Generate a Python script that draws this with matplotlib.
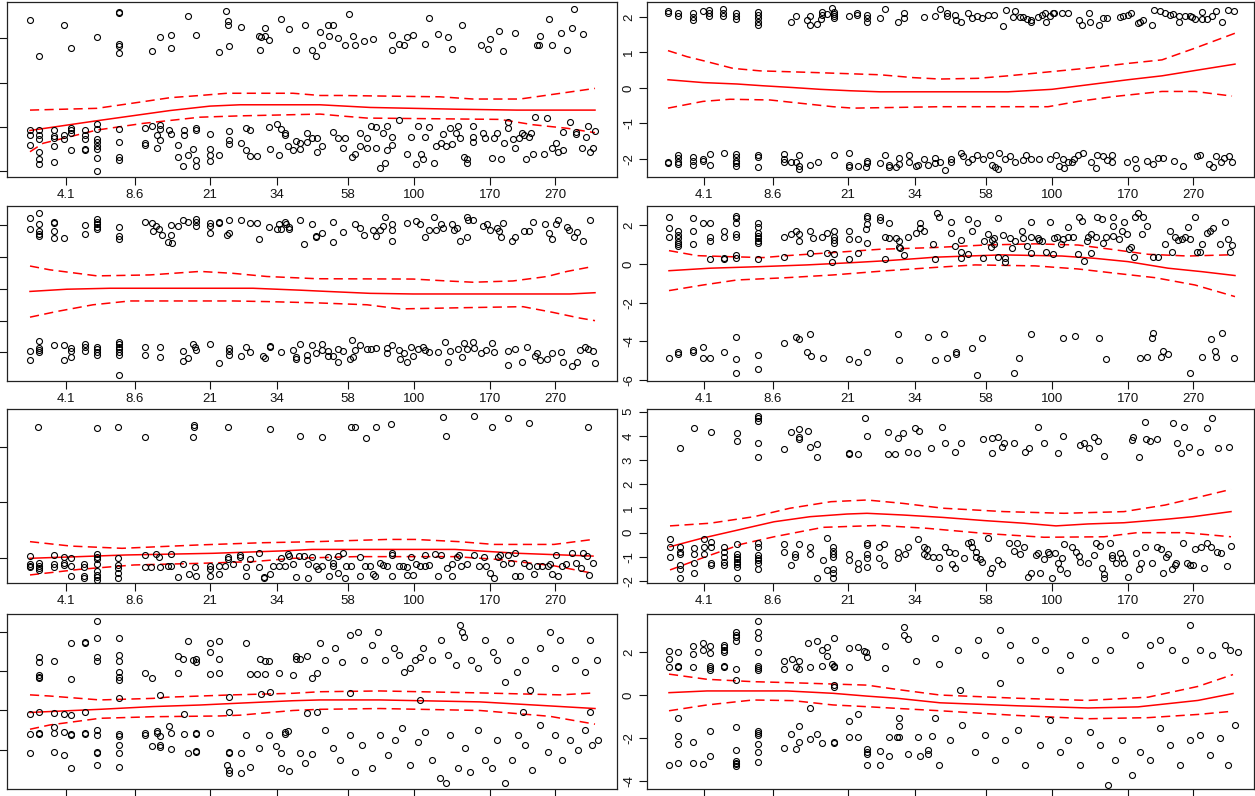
import matplotlib.pyplot as plt

plt.rcParams['font.family'] = ['Liberation Sans', 'DejaVu Sans']

# x axis: positions of the observations (rank scale), labels are quantiles
xtick_pos = [36, 105, 180, 247, 318, 384, 460, 525]
xtick_lab = ['4.1', '8.6', '21', '34', '58', '100', '170', '270']

# ---------------- panel 1 (row 1, left)
p1_pts = [
    (0, 2.42), (9, 1.61), (34, 2.30), (41, 1.79), (67, 2.02), (89, 2.60), (89, 2.58), (89, 1.87), (89, 1.83),
    (89, 1.66), (122, 1.72), (130, 2.02), (141, 2.08), (141, 1.79), (158, 2.51), (166, 2.08), (189, 1.69),
    (196, 2.62), (198, 2.38), (198, 2.30), (199, 1.82), (211, 2.26), (229, 2.05), (230, 1.74), (231, 2.04),
    (235, 2.23), (235, 2.05), (239, 1.96), (251, 2.44), (259, 2.20), (266, 1.74), (275, 2.30), (282, 1.74),
    (286, 1.61), (290, 2.15), (292, 1.85), (298, 2.30), (303, 2.30), (299, 2.05), (308, 2.00), (315, 1.85),
    (319, 2.54), (323, 2.05), (325, 1.85), (334, 1.93), (343, 1.98), (362, 2.08), (362, 1.74), (369, 1.87),
    (374, 1.85), (377, 2.02), (383, 2.08), (395, 1.87), (399, 2.47), (408, 2.10), (418, 2.02), (422, 1.76),
    (432, 2.30), (451, 1.85), (458, 1.76), (460, 1.98), (469, 2.17), (473, 1.72), (485, 2.13), (507, 1.85),
    (509, 1.85), (510, 2.05), (519, 2.44), (522, 1.85), (531, 2.13), (537, 1.74), (542, 2.23), (544, 2.66),
    (553, 2.10),
    (0, -0.07), (0, -0.18), (0, -0.41), (9, -0.07), (9, -0.18), (9, -0.28), (9, -0.56), (9, -0.73), (9, -0.84),
    (24, -0.07), (24, -0.20), (24, -0.26), (24, -0.43), (24, -0.79), (34, -0.18), (34, -0.28), (41, -0.03),
    (41, -0.08), (41, -0.13), (41, -0.53), (55, -0.07), (55, -0.18), (55, -0.28), (55, -0.50), (55, -0.53),
    (67, 0.06), (67, -0.05), (67, -0.28), (67, -0.35), (67, -0.42), (67, -0.50), (67, -0.71), (67, -0.99),
    (89, -0.05), (89, -0.33), (89, -0.67), (89, -0.74), (115, -0.03), (115, -0.37), (115, -0.40), (122, 0.02),
    (127, -0.18), (127, -0.48), (130, 0.05), (130, -0.05), (130, -0.29), (139, -0.07), (141, -0.17),
    (148, -0.41), (148, -0.67), (153, -0.88), (154, -0.07), (154, -0.18), (158, -0.63), (163, -0.50),
    (166, -0.02), (166, -0.07), (166, -0.74), (166, -0.88), (180, -0.17), (180, -0.50), (180, -0.63),
    (180, -0.76), (189, -0.63), (199, -0.09), (199, -0.29), (199, -0.38), (211, -0.37), (216, -0.53),
    (216, -0.02), (220, -0.65), (220, -0.07), (227, -0.65), (239, -0.01), (240, -0.50), (247, 0.07),
    (249, -0.63), (251, -0.05), (255, -0.14), (255, -0.18), (258, -0.44), (263, -0.52), (266, -0.31),
    (270, -0.37), (270, -0.50), (277, -0.14), (277, -0.33), (282, -0.24), (287, -0.56), (287, -0.24),
    (292, -0.44), (303, -0.11), (308, -0.26), (313, -0.47), (315, -0.26), (322, -0.67), (325, -0.61),
    (330, -0.14), (330, -0.44), (337, -0.24), (337, -0.47), (341, 0.02), (346, -0.01), (346, -0.47),
    (350, -0.93), (353, -0.14), (355, -0.81), (357, 0.02), (357, -0.52), (362, -0.23), (362, -0.41),
    (369, 0.16), (377, -0.61), (381, -0.22), (386, -0.84), (388, 0.01), (391, -0.61), (393, -0.73),
    (395, -0.23), (399, -0.01), (404, -0.81), (406, -0.43), (411, -0.37), (413, -0.17), (416, -0.43),
    (420, -0.02), (422, -0.39), (426, -0.13), (428, 0.01), (430, -0.26), (434, -0.67), (437, -0.73),
    (437, -0.81), (443, 0.01), (443, -0.22), (443, -0.35), (453, -0.14), (455, -0.24), (462, -0.71),
    (464, -0.24), (467, -0.14), (471, -0.73), (474, -0.37), (478, 0.12), (478, -0.03), (483, -0.28),
    (485, -0.48), (489, -0.24), (492, -0.13), (494, -0.18), (496, -0.73), (499, -0.22), (501, -0.14),
    (503, -0.61), (505, 0.22), (514, -0.61), (517, 0.20), (522, -0.47), (526, -0.37), (528, -0.56),
    (533, -0.11), (533, -0.53), (540, 0.12), (546, -0.11), (546, -0.16), (552, -0.47), (556, -0.22),
    (558, 0.01), (560, -0.56), (563, -0.47), (565, -0.09),
]
p1_fit = [(0, -0.08), (67, 0.14), (140, 0.37), (180, 0.47), (210, 0.50), (290, 0.50), (340, 0.44),
          (383, 0.42), (427, 0.40), (487, 0.38), (565, 0.38)]
p1_up = [(0, 0.38), (67, 0.42), (113, 0.57), (140, 0.66), (170, 0.71), (197, 0.76), (263, 0.76), (290, 0.71),
         (310, 0.71), (410, 0.68), (443, 0.63), (490, 0.63), (537, 0.78), (565, 0.87)]
p1_lo = [(0, -0.56), (13, -0.37), (67, -0.07), (113, 0.08), (170, 0.22), (210, 0.25), (290, 0.29),
         (310, 0.25), (337, 0.20), (470, 0.17), (503, 0.05), (537, -0.03), (565, -0.13)]

# ---------------- panel 2 (row 1, right)
p2_pts = [
    (0, 2.17), (0, 2.12), (10, 2.12), (10, 2.03), (25, 2.10), (25, 2.01), (25, 1.92), (35, 2.17), (41, 2.20),
    (41, 2.10), (41, 2.03), (55, 2.22), (55, 2.12), (55, 2.03), (68, 2.12), (68, 2.03), (68, 1.93), (90, 2.15),
    (90, 2.06), (90, 1.96), (90, 1.87), (90, 1.77), (123, 1.87), (128, 2.03), (139, 1.90), (142, 2.03),
    (142, 1.77), (149, 1.80), (153, 1.94), (154, 2.15), (154, 2.06), (159, 2.08), (164, 2.24), (166, 2.15),
    (166, 2.08), (166, 2.03), (166, 1.96), (181, 2.03), (189, 2.10), (189, 2.06), (199, 2.06), (199, 1.96),
    (199, 1.87), (212, 1.96), (217, 2.22), (230, 1.87), (236, 2.12), (236, 1.96), (256, 2.01), (267, 2.03),
    (272, 2.22), (279, 2.12), (279, 2.03), (287, 2.06), (288, 1.90), (293, 1.87), (300, 2.12), (304, 1.96),
    (309, 2.03), (314, 1.96), (320, 2.06), (326, 2.06), (335, 1.75), (338, 2.20), (345, 2.01), (347, 2.17),
    (352, 2.01), (355, 2.01), (359, 1.93), (363, 1.92), (363, 1.87), (370, 2.01), (374, 2.06), (377, 2.12),
    (378, 1.87), (382, 2.03), (385, 2.12), (386, 2.12), (394, 2.10), (400, 2.12), (411, 1.92), (414, 1.77),
    (421, 2.12), (422, 1.87), (431, 1.77), (435, 1.96), (439, 1.96), (452, 2.01), (455, 2.03), (460, 2.06),
    (463, 2.12), (470, 1.84), (472, 1.87), (475, 1.92), (484, 1.77), (486, 2.20), (492, 2.18), (497, 2.12),
    (502, 2.06), (505, 2.08), (511, 2.03), (511, 1.87), (517, 2.03), (522, 2.03), (524, 1.99), (527, 1.93),
    (534, 2.15), (534, 1.93), (539, 1.93), (544, 2.03), (548, 2.18), (554, 1.87), (560, 2.20), (566, 2.18),
    (0, -2.08), (0, -2.12), (10, -1.89), (10, -1.98), (10, -2.08), (10, -2.14), (25, -1.95), (25, -2.06),
    (25, -2.17), (35, -2.01), (35, -2.05), (42, -1.87), (42, -2.17), (56, -1.82), (68, -1.86), (68, -1.95),
    (68, -2.05), (68, -2.12), (68, -2.19), (90, -1.89), (90, -1.95), (90, -2.23), (116, -1.86), (116, -2.01),
    (116, -2.10), (123, -2.10), (128, -2.08), (131, -1.89), (131, -2.19), (131, -2.29), (142, -2.17),
    (150, -2.10), (166, -1.89), (181, -1.82), (181, -2.17), (181, -2.22), (190, -2.20), (198, -2.22),
    (199, -2.05), (199, -2.12), (212, -2.12), (217, -1.89), (221, -2.17), (221, -2.23), (228, -2.22),
    (231, -2.14), (231, -1.98), (241, -1.89), (241, -2.10), (248, -2.20), (250, -2.17), (256, -2.01),
    (260, -2.17), (267, -1.98), (267, -2.12), (272, -2.10), (277, -2.31), (283, -2.01), (283, -2.10),
    (293, -1.82), (295, -1.93), (300, -2.08), (304, -2.01), (309, -1.89), (315, -2.01), (322, -1.89),
    (324, -2.17), (327, -2.22), (330, -2.29), (331, -1.84), (337, -2.01), (342, -1.92), (347, -2.10),
    (355, -2.03), (358, -1.89), (363, -2.01), (371, -2.01), (382, -2.01), (388, -1.89), (391, -2.20),
    (395, -2.01), (396, -2.26), (400, -2.10), (404, -2.10), (406, -2.01), (410, -1.89), (415, -1.82),
    (423, -2.10), (428, -2.26), (429, -1.89), (435, -1.93), (439, -2.03), (444, -1.89), (444, -2.10),
    (459, -2.10), (467, -2.01), (468, -2.26), (479, -2.05), (485, -2.14), (490, -1.98), (495, -1.98),
    (506, -2.05), (515, -2.20), (529, -1.92), (532, -1.89), (541, -2.14), (545, -2.22), (548, -1.93),
    (553, -2.08), (556, -1.98), (561, -1.92), (564, -2.08),
]
p2_fit = [(0, 0.23), (35, 0.15), (69, 0.11), (95, 0.06), (125, 0.01), (152, -0.04), (182, -0.08),
          (212, -0.11), (340, -0.11), (384, -0.04), (460, 0.23), (494, 0.34), (527, 0.49), (567, 0.67)]
p2_up = [(0, 1.05), (19, 0.88), (39, 0.74), (65, 0.55), (92, 0.48), (139, 0.44), (212, 0.37), (245, 0.29),
         (272, 0.25), (310, 0.27), (340, 0.34), (384, 0.46), (417, 0.55), (460, 0.69), (494, 0.79),
         (527, 1.12), (567, 1.54)]
p2_lo = [(0, -0.57), (35, -0.38), (62, -0.32), (102, -0.34), (125, -0.41), (165, -0.53), (185, -0.57),
         (272, -0.53), (380, -0.53), (410, -0.38), (447, -0.24), (494, -0.10), (527, -0.10), (564, -0.23)]

# ---------------- panel 3 (row 2, left)
p3_pts = [
    (0, 2.23), (0, 1.88), (9, 2.40), (9, 2.04), (9, 1.81), (9, 1.72), (9, 1.67), (24, 2.12), (24, 2.07),
    (24, 1.81), (24, 1.60), (34, 1.60), (55, 2.02), (55, 1.72), (67, 2.19), (67, 2.12), (67, 2.05), (67, 1.96),
    (67, 1.88), (89, 1.96), (89, 1.65), (89, 1.56), (115, 2.10), (122, 2.07), (126, 1.98), (123, 1.81),
    (129, 1.88), (132, 1.70), (138, 1.49), (142, 1.44), (141, 2.02), (141, 1.70), (148, 1.98), (153, 2.17),
    (158, 2.10), (166, 2.19), (166, 2.12), (166, 1.98), (180, 2.07), (180, 1.98), (180, 1.75), (189, 2.12),
    (189, 2.07), (199, 2.17), (199, 1.75), (197, 1.70), (211, 2.17), (220, 2.07), (227, 2.07), (229, 1.56),
    (239, 1.96), (247, 1.88), (249, 2.05), (251, 1.88), (255, 2.12), (256, 2.05), (259, 1.96), (259, 1.88),
    (270, 2.17), (274, 1.42), (282, 2.04), (286, 1.67), (286, 1.62), (292, 1.75), (303, 2.10), (303, 1.49),
    (313, 1.78), (325, 2.04), (330, 1.93), (334, 1.70), (343, 1.86), (346, 1.67), (350, 1.86), (353, 1.99),
    (355, 2.25), (362, 2.04), (362, 1.86), (362, 1.52), (377, 2.07), (386, 2.14), (390, 2.04), (395, 1.63),
    (399, 1.86), (404, 2.25), (406, 1.86), (411, 2.04), (413, 1.91), (422, 2.04), (424, 1.86), (427, 1.91),
    (430, 1.52), (437, 2.25), (437, 1.63), (438, 2.17), (443, 2.17), (453, 1.99), (457, 2.04), (460, 1.86),
    (467, 1.91), (469, 1.81), (471, 1.63), (473, 2.07), (482, 1.52), (485, 1.63), (494, 1.81), (499, 1.83),
    (503, 2.10), (515, 2.04), (519, 1.75), (522, 1.57), (526, 2.04), (528, 2.17), (537, 1.94), (539, 1.86),
    (547, 1.78), (544, 1.63), (553, 1.52), (560, 2.17),
    (0, -1.95), (0, -2.24), (9, -1.63), (9, -1.87), (9, -1.92), (9, -1.99), (24, -1.76), (34, -1.76),
    (34, -2.24), (41, -1.87), (41, -1.97), (41, -2.15), (55, -1.73), (55, -1.84), (55, -1.94), (67, -1.82),
    (67, -1.90), (67, -1.99), (67, -2.08), (89, -1.66), (89, -1.73), (89, -1.82), (89, -1.90), (89, -1.99),
    (89, -2.08), (89, -2.71), (115, -1.84), (115, -2.08), (130, -1.84), (130, -2.15), (153, -1.95),
    (153, -2.26), (158, -2.18), (163, -1.73), (165, -1.82), (166, -1.92), (180, -1.73), (189, -2.32),
    (199, -1.87), (199, -1.97), (199, -2.08), (211, -2.10), (216, -1.84), (220, -1.99), (233, -2.10),
    (235, -2.18), (240, -1.82), (240, -1.80), (251, -1.99), (263, -1.92), (266, -2.13), (266, -2.21),
    (270, -1.73), (277, -2.08), (277, -2.24), (282, -1.76), (286, -2.03), (292, -1.74), (292, -1.92),
    (298, -1.97), (298, -2.11), (303, -2.11), (308, -1.89), (308, -2.29), (313, -1.97), (320, -2.22),
    (322, -1.61), (323, -2.13), (325, -1.92), (330, -1.78), (337, -1.89), (341, -1.89), (346, -1.85),
    (357, -1.85), (357, -2.03), (362, -1.78), (369, -1.92), (370, -2.22), (374, -2.03), (377, -2.29),
    (381, -1.82), (383, -2.11), (388, -1.89), (393, -1.82), (395, -1.92), (399, -1.99), (408, -1.99),
    (415, -1.66), (418, -2.29), (420, -1.95), (428, -1.89), (432, -2.13), (434, -1.71), (437, -1.89),
    (443, -1.66), (444, -1.87), (451, -2.03), (456, -1.92), (462, -1.71), (464, -1.99), (478, -2.39),
    (478, -1.97), (485, -1.89), (492, -2.29), (497, -1.82), (505, -2.10), (507, -2.03), (510, -2.24),
    (517, -2.22), (522, -2.03), (531, -1.99), (533, -2.29), (542, -2.43), (547, -2.29), (550, -1.92),
    (555, -1.82), (558, -1.89), (563, -1.95), (565, -2.32),
]
p3_fit = [(0, -0.08), (37, -0.01), (80, 0.02), (223, 0.02), (270, -0.04), (297, -0.08), (340, -0.14),
          (383, -0.16), (540, -0.16), (565, -0.12)]
p3_up = [(0, 0.72), (20, 0.60), (67, 0.41), (120, 0.44), (170, 0.55), (203, 0.49), (237, 0.39), (287, 0.32),
         (383, 0.31), (417, 0.25), (443, 0.21), (483, 0.25), (517, 0.39), (537, 0.55), (562, 0.70)]
p3_lo = [(0, -0.89), (27, -0.71), (63, -0.50), (100, -0.38), (203, -0.38), (237, -0.40), (287, -0.44),
         (337, -0.50), (370, -0.63), (437, -0.59), (493, -0.56), (523, -0.74), (550, -0.92), (565, -1.00)]

# ---------------- panel 4 (row 2, right)
p4_pts = [
    (1, 2.45), (1, 1.88), (1, 1.38), (10, 1.68), (10, 1.50), (10, 1.33), (10, 1.16), (10, 1.04), (10, 0.93),
    (25, 2.40), (25, 1.68), (25, 1.04), (35, 2.11), (42, 2.11), (42, 1.38), (42, 1.21), (42, 0.26), (56, 1.68),
    (56, 1.38), (56, 0.33), (56, 0.26), (68, 2.49), (68, 2.37), (68, 2.11), (68, 1.54), (68, 1.38), (68, 0.47),
    (68, 0.29), (90, 2.14), (90, 1.90), (90, 1.59), (90, 1.45), (90, 1.33), (90, 1.21), (90, 1.07), (90, 0.26),
    (116, 1.38), (116, 0.38), (123, 1.55), (128, 1.68), (131, 1.54), (131, 1.21), (142, 1.68), (142, 0.59),
    (145, 1.33), (154, 1.38), (159, 1.59), (159, 0.59), (164, 0.12), (166, 1.68), (166, 1.42), (166, 1.24),
    (166, 1.07), (166, 0.52), (181, 1.68), (181, 1.28), (181, 0.26), (190, 1.28), (190, 0.59), (198, 1.80),
    (199, 2.06), (199, 2.37), (199, 2.49), (199, 1.07), (212, 2.45), (212, 2.28), (217, 0.26), (221, 2.11),
    (217, 1.38), (221, 1.33), (228, 1.33), (231, 1.21), (231, 0.90), (232, 0.81), (236, 0.47), (240, 1.38),
    (248, 1.62), (252, 2.11), (252, 1.85), (256, 1.68), (265, 1.04), (267, 0.26), (269, 2.63), (271, 2.45),
    (283, 2.16), (283, 1.59), (287, 0.95), (293, 1.24), (293, 0.60), (293, 0.33), (300, 2.33), (300, 0.50),
    (304, 1.68), (309, 2.11), (315, 0.29), (316, 1.21), (320, 1.55), (323, 0.90), (324, 1.24), (326, 1.33),
    (326, 1.02), (330, 2.40), (330, 0.35), (335, 1.50), (337, 0.29), (337, 0.12), (342, 1.36), (344, 0.81),
    (347, 1.21), (354, 1.71), (355, 1.33), (359, 0.95), (363, 2.16), (363, 1.38), (363, 0.55), (370, 1.33),
    (371, 1.24), (374, 1.21), (378, 0.64), (382, 2.16), (385, 0.50), (386, 1.33), (389, 1.38), (393, 1.02),
    (395, 1.28), (400, 1.90), (400, 1.38), (405, 1.38), (410, 0.50), (411, 2.45), (414, 2.23), (416, 0.16),
    (419, 1.21), (420, 1.42), (423, 1.55), (423, 0.55), (428, 1.42), (429, 2.45), (434, 2.33), (435, 1.11),
    (438, 1.38), (445, 2.45), (445, 1.99), (445, 1.47), (451, 1.30), (454, 1.71), (456, 2.16), (459, 1.55),
    (461, 0.78), (463, 0.90), (466, 0.35), (467, 2.45), (470, 2.63), (475, 2.45), (474, 1.55), (479, 1.99),
    (485, 0.35), (490, 0.35), (497, 1.04), (502, 1.71), (504, 0.64), (507, 1.42), (510, 1.24), (514, 1.28),
    (517, 1.38), (520, 1.90), (522, 1.30), (527, 2.45), (529, 0.60), (532, 0.60), (534, 1.04), (539, 1.59),
    (542, 1.71), (545, 1.88), (552, 1.04), (557, 2.16), (560, 1.28), (562, 0.64), (564, 0.98),
    (1, -4.89), (10, -4.54), (10, -4.66), (25, -4.46), (25, -4.58), (35, -4.32), (35, -4.89), (42, -4.89),
    (56, -4.58), (68, -3.80), (68, -4.94), (68, -5.63), (90, -4.72), (90, -5.46), (116, -4.11), (128, -3.77),
    (131, -3.89), (139, -4.58), (142, -3.63), (143, -4.75), (155, -4.89), (181, -4.94), (190, -5.06),
    (199, -4.58), (230, -3.63), (231, -4.97), (260, -3.80), (267, -4.97), (276, -3.64), (279, -4.89),
    (288, -4.54), (288, -4.68), (304, -4.34), (309, -5.75), (314, -3.82), (346, -5.63), (351, -4.89),
    (363, -3.64), (395, -3.82), (407, -3.73), (431, -3.82), (438, -4.94), (472, -4.89), (479, -4.84),
    (484, -3.82), (485, -3.56), (493, -4.84), (495, -4.51), (500, -4.68), (522, -5.63), (534, -4.84),
    (543, -3.89), (547, -4.51), (548, -4.84), (554, -3.56), (566, -4.89),
]
p4_fit = [(1, -0.35), (42, -0.22), (92, -0.14), (139, -0.05), (185, 0.07), (219, 0.17), (252, 0.29),
          (267, 0.35), (300, 0.41), (334, 0.47), (394, 0.41), (427, 0.29), (460, 0.12), (500, -0.22),
          (534, -0.40), (567, -0.60)]
p4_up = [(1, 0.69), (29, 0.43), (59, 0.38), (95, 0.33), (119, 0.43), (165, 0.59), (212, 0.76), (267, 0.85),
         (317, 0.98), (367, 1.04), (410, 0.98), (440, 0.78), (480, 0.50), (520, 0.41), (560, 0.47)]
p4_lo = [(1, -1.38), (35, -1.09), (69, -0.83), (119, -0.71), (165, -0.57), (219, -0.35), (267, -0.18),
         (307, -0.05), (367, -0.10), (410, -0.26), (447, -0.48), (487, -0.71), (527, -1.09), (567, -1.69)]

# ---------------- panel 5 (row 3, left)
p5_pts = [
    (8, 4.72), (67, 4.68), (88, 4.72), (115, 4.36), (163, 4.36), (164, 4.78), (164, 4.72), (198, 4.72),
    (240, 4.64), (270, 4.40), (292, 4.36), (321, 4.72), (325, 4.72), (336, 4.32), (346, 4.72), (361, 4.82),
    (413, 5.06), (416, 4.40), (444, 5.11), (462, 4.72), (478, 5.02), (499, 4.86), (558, 4.72),
    (0, 0.06), (0, -0.24), (0, -0.28), (0, -0.34), (9, -0.20), (9, -0.29), (9, -0.36), (9, -0.44), (24, 0.10),
    (24, -0.23), (24, -0.32), (34, 0.04), (34, -0.18), (34, -0.26), (41, -0.02), (41, -0.29), (41, -0.66),
    (54, -0.23), (54, -0.32), (54, -0.66), (54, -0.74), (67, 0.13), (67, 0.04), (67, -0.06), (67, -0.23),
    (67, -0.47), (67, -0.62), (67, -0.71), (67, -0.80), (88, -0.02), (88, -0.26), (88, -0.36), (88, -0.54),
    (88, -0.74), (115, 0.10), (115, -0.32), (121, -0.32), (126, 0.13), (129, 0.04), (130, -0.32), (138, -0.29),
    (141, 0.13), (141, -0.29), (148, -0.71), (153, -0.24), (159, -0.59), (165, -0.32), (166, -0.66),
    (180, -0.30), (180, -0.41), (180, -0.66), (189, -0.29), (189, -0.59), (195, -0.29), (198, 0.04),
    (198, -0.06), (203, -0.24), (210, 0.10), (210, 0.04), (216, -0.32), (216, -0.66), (220, -0.06),
    (229, -0.32), (229, 0.16), (234, -0.68), (234, -0.74), (240, -0.59), (243, -0.29), (249, -0.29),
    (251, -0.02), (255, -0.29), (258, 0.13), (259, 0.06), (263, -0.24), (266, -0.68), (269, 0.06), (274, 0.06),
    (278, -0.74), (278, -0.24), (282, 0.04), (286, -0.30), (288, -0.42), (292, -0.29), (298, 0.04),
    (299, -0.66), (303, -0.18), (303, -0.29), (308, 0.06), (308, -0.56), (313, 0.16), (316, -0.29),
    (315, -0.74), (321, -0.29), (330, 0.04), (330, -0.66), (335, -0.29), (340, -0.29), (343, -0.59),
    (345, -0.66), (350, -0.20), (353, -0.26), (357, -0.29), (362, 0.18), (362, 0.10), (362, -0.66),
    (369, -0.29), (373, -0.29), (377, -0.32), (377, -0.62), (381, 0.04), (383, -0.62), (386, -0.24),
    (390, -0.29), (395, -0.29), (395, 0.10), (399, -0.26), (405, 0.13), (408, -0.66), (411, 0.10),
    (417, -0.38), (422, -0.66), (422, -0.23), (427, 0.04), (429, 0.10), (431, -0.29), (437, -0.23),
    (444, 0.10), (449, -0.29), (454, 0.04), (456, -0.29), (460, -0.56), (464, -0.74), (468, 0.04), (470, 0.10),
    (473, -0.23), (478, 0.10), (481, -0.20), (485, -0.66), (485, 0.16), (490, -0.66), (494, -0.20),
    (499, -0.29), (504, -0.59), (507, -0.29), (512, -0.29), (518, -0.29), (520, -0.23), (522, -0.60),
    (526, 0.10), (528, -0.66), (532, -0.29), (536, -0.23), (542, 0.16), (546, -0.20), (551, -0.38),
    (553, 0.18), (557, 0.06), (559, -0.62), (563, -0.20),
]
p5_fit = [(0, -0.02), (49, 0.04), (96, 0.10), (183, 0.16), (255, 0.25), (282, 0.30), (425, 0.30),
          (488, 0.16), (563, 0.06)]
p5_up = [(0, 0.58), (41, 0.42), (92, 0.34), (168, 0.46), (231, 0.54), (286, 0.58), (357, 0.66), (385, 0.66),
         (429, 0.58), (464, 0.48), (524, 0.48), (563, 0.66)]
p5_lo = [(0, -0.62), (49, -0.42), (104, -0.26), (171, -0.20), (223, -0.14), (263, -0.02), (326, 0.04),
         (425, 0.04), (468, -0.06), (524, -0.29), (563, -0.56)]

# ---------------- panel 6 (row 3, right)
p6_pts = [
    (12, 3.48), (26, 4.34), (43, 4.15), (69, 4.10), (69, 3.80), (90, 4.83), (90, 4.72), (90, 4.63), (90, 3.69),
    (90, 3.11), (116, 3.44), (123, 4.15), (131, 4.28), (131, 3.94), (131, 3.86), (140, 4.20), (142, 3.55),
    (149, 3.65), (149, 3.11), (181, 3.31), (181, 3.25), (190, 3.25), (197, 4.72), (199, 4.01), (220, 4.15),
    (220, 3.25), (227, 3.25), (230, 3.90), (235, 4.10), (240, 3.35), (247, 4.34), (251, 4.20), (249, 3.31),
    (274, 4.38), (263, 3.48), (277, 3.72), (287, 3.35), (293, 3.72), (315, 3.87), (324, 3.90), (324, 3.31),
    (330, 3.97), (334, 3.53), (336, 3.72), (346, 3.69), (357, 3.35), (361, 3.48), (370, 4.38), (376, 3.72),
    (390, 3.31), (395, 4.01), (412, 3.62), (416, 3.72), (421, 3.48), (426, 3.97), (430, 3.80), (436, 3.17),
    (464, 3.83), (465, 3.97), (471, 3.14), (477, 4.56), (478, 3.86), (482, 3.80), (489, 3.86), (505, 4.52),
    (509, 3.72), (513, 3.31), (516, 4.38), (521, 3.55), (532, 3.32), (539, 4.34), (544, 4.72), (550, 3.48),
    (561, 3.53),
    (2, -0.28), (2, -0.58), (2, -1.02), (12, -0.58), (12, -0.79), (12, -0.88), (12, -1.34), (12, -1.52),
    (12, -1.89), (26, -0.65), (26, -0.88), (26, -1.24), (26, -1.65), (36, -0.28), (36, -0.58), (36, -0.88),
    (43, -0.37), (43, -0.58), (43, -1.27), (43, -1.34), (56, -0.58), (56, -0.79), (56, -1.02), (56, -1.20),
    (56, -1.34), (69, -0.47), (69, -0.88), (69, -0.99), (69, -1.10), (69, -1.20), (69, -1.29), (69, -1.40),
    (69, -1.89), (90, -0.44), (90, -0.58), (90, -0.92), (90, -1.06), (90, -1.13), (90, -1.24), (90, -1.52),
    (116, -0.47), (116, -0.79), (123, -1.34), (127, -0.88), (127, -0.99), (131, -0.47), (142, -0.58),
    (142, -0.88), (149, -1.89), (155, -1.13), (159, -0.23), (159, -1.54), (165, -0.58), (165, -0.74),
    (165, -0.88), (165, -0.99), (165, -1.52), (165, -1.68), (165, -1.89), (181, -0.88), (181, -1.13),
    (190, -1.24), (190, -1.52), (199, -0.44), (199, -0.51), (199, -0.88), (199, -1.06), (199, -1.40),
    (211, -1.06), (211, -0.58), (216, -0.47), (216, -1.34), (230, -0.79), (230, -1.06), (237, -0.88),
    (240, -0.58), (250, -0.28), (256, -0.58), (256, -0.88), (259, -0.69), (259, -0.96), (265, -0.99),
    (271, -1.47), (271, -0.99), (277, -0.58), (281, -0.79), (284, -1.29), (287, -0.83), (287, -1.47),
    (296, -1.06), (300, -0.44), (303, -0.37), (304, -0.58), (308, -0.79), (308, -1.02), (312, -1.10),
    (314, -1.20), (320, -0.23), (322, -1.65), (324, -1.47), (330, -1.13), (334, -1.31), (341, -0.44),
    (346, -0.76), (349, -0.41), (352, -0.88), (356, -0.58), (360, -1.82), (363, -1.68), (368, -0.92),
    (370, -0.83), (372, -1.68), (376, -1.10), (380, -0.79), (381, -0.88), (384, -1.86), (387, -0.83),
    (390, -1.27), (392, -1.52), (394, -1.06), (396, -0.47), (399, -1.68), (404, -0.61), (408, -0.79),
    (411, -0.96), (412, -1.20), (420, -1.27), (426, -0.92), (428, -0.44), (432, -0.54), (434, -1.47),
    (436, -1.71), (436, -1.89), (442, -0.44), (444, -0.92), (444, -1.06), (448, -1.24), (452, -0.85),
    (454, -1.06), (456, -1.27), (460, -1.85), (468, -0.85), (471, -1.52), (473, -1.24), (477, -0.58),
    (484, -1.24), (489, -0.58), (493, -0.69), (495, -1.65), (498, -1.02), (500, -0.88), (504, -1.50),
    (507, -1.34), (508, -1.27), (515, -0.44), (519, -1.27), (522, -1.34), (525, -1.34), (527, -0.69),
    (533, -0.58), (536, -1.47), (539, -0.44), (543, -0.58), (549, -0.79), (553, -0.85), (559, -1.36),
    (563, -0.54),
]
p6_fit = [(2, -0.58), (34, -0.23), (70, 0.11), (106, 0.45), (142, 0.66), (179, 0.77), (199, 0.80),
          (235, 0.73), (275, 0.63), (316, 0.50), (356, 0.39), (388, 0.28), (420, 0.36), (456, 0.41),
          (497, 0.55), (525, 0.66), (563, 0.87)]
p6_up = [(2, 0.28), (42, 0.39), (86, 0.66), (122, 1.01), (163, 1.28), (199, 1.35), (235, 1.21), (275, 1.01),
         (336, 0.87), (396, 0.80), (456, 0.87), (497, 1.14), (533, 1.49), (563, 1.79)]
p6_lo = [(2, -1.54), (38, -0.99), (74, -0.47), (106, -0.17), (155, 0.22), (211, 0.30), (259, 0.18),
         (316, -0.03), (376, -0.19), (436, -0.17), (469, 0.0), (517, 0.0), (563, -0.17)]

# ---------------- panel 7 (row 4, left)
p7_pts = [
    (0, -0.09), (0, -0.61), (0, -1.08), (9, 1.38), (9, 1.25), (9, 0.91), (9, 0.87), (9, 0.82), (9, -0.03),
    (9, -0.58), (9, -0.61), (24, 1.27), (24, -0.06), (24, -0.41), (24, -0.58), (24, -1.05), (34, -0.09),
    (34, -0.54), (34, -1.14), (41, 1.74), (41, 0.80), (41, -0.12), (41, -0.61), (41, -0.64), (41, -1.46),
    (55, 1.76), (55, 1.72), (55, -0.03), (55, -0.58), (55, -0.61), (67, 2.30), (67, 1.86), (67, 1.38),
    (67, 1.27), (67, -0.50), (67, -0.63), (67, -1.05), (67, -1.10), (67, -1.39), (89, 1.86), (89, 1.42),
    (89, 1.27), (89, 0.99), (89, 0.85), (89, 0.78), (89, 0.31), (89, -0.61), (89, -0.65), (89, -0.88),
    (89, -1.08), (89, -1.44), (115, 0.97), (115, -0.58), (115, -0.64), (122, 0.82), (122, -0.91), (127, -0.52),
    (127, -0.58), (130, 0.40), (130, -0.65), (130, -0.88), (130, -0.94), (139, -0.39), (141, -0.58),
    (141, -0.99), (148, 1.40), (148, 0.97), (153, 1.31), (154, -0.09), (154, -0.61), (158, 1.78), (158, -1.08),
    (163, 1.29), (166, 1.31), (166, 1.25), (166, -0.58), (166, -0.61), (166, -1.03), (166, -1.05),
    (180, 1.72), (180, 1.49), (180, 0.93), (180, -0.58), (189, 1.78), (189, 1.33), (189, 0.97), (197, -1.39),
    (199, 0.35), (199, -0.03), (199, -1.05), (199, -1.10), (199, -1.52), (199, -1.61), (211, -1.10),
    (211, -1.59), (216, 1.74), (216, -0.64), (220, 0.93), (220, -1.45), (227, 0.93), (229, -0.97), (230, 1.31),
    (231, 0.42), (235, 1.27), (235, 0.93), (239, 1.27), (239, -0.64), (240, 0.48), (246, -0.92), (249, 0.97),
    (251, -1.10), (251, -1.46), (255, -0.54), (255, -0.60), (258, -0.52), (259, -1.55), (263, 0.91),
    (266, 1.39), (266, 1.33), (270, 1.31), (270, -1.08), (275, -1.35), (277, 1.39), (277, -0.06), (282, 0.82),
    (282, -1.11), (287, 0.95), (287, -0.03), (290, 1.72),
    (295, 1.29), (305, 1.60), (312, 1.24), (320, 1.93), (328, 2.01), (334, 1.29), (342, 1.68), (348, 2.01),
    (355, 1.29), (364, 1.60), (369, 1.42), (374, 0.98), (380, 1.09), (385, 1.29), (390, 1.37), (393, 1.60),
    (402, 1.29), (411, 1.80), (418, 1.42), (426, 1.16), (430, 2.19), (432, 2.01), (434, 1.88), (441, 1.29),
    (448, 1.09), (455, 1.80), (463, 1.50), (467, 1.29), (475, 0.73), (480, 1.80), (487, 0.98), (495, 1.29),
    (500, 0.52), (510, 1.60), (520, 2.01), (525, 1.09), (530, 1.80), (545, 1.29), (555, 0.98), (560, 1.80),
    (567, 1.29), (320, 0.45), (390, 0.27), (493, -0.04), (560, -0.04),
    (295, -0.50), (303, -0.96), (310, -1.27), (320, -0.63), (325, -1.57), (332, -0.88), (342, -1.47),
    (350, -0.63), (358, -1.14), (365, -0.75), (372, -0.45), (380, -1.39), (388, -0.81), (395, -0.55),
    (402, -1.27), (410, -1.73), (416, -1.85), (420, -0.63), (428, -1.47), (435, -0.96), (440, -1.57),
    (448, -0.50), (455, -1.27), (462, -1.47), (467, -0.75), (475, -1.85), (482, -1.27), (488, -0.63),
    (495, -0.88), (502, -1.52), (510, -0.37), (518, -1.06), (525, -0.63), (532, -1.27), (540, -0.75),
    (548, -1.01), (555, -0.50), (562, -0.88), (568, -0.75),
]
p7_fit = [(0, -0.05), (70, 0.03), (123, 0.10), (170, 0.14), (203, 0.18), (263, 0.25), (290, 0.27),
          (350, 0.27), (450, 0.22), (565, 0.05)]
p7_up = [(0, 0.40), (20, 0.37), (70, 0.27), (123, 0.31), (137, 0.34), (170, 0.37), (203, 0.40), (263, 0.44),
         (290, 0.48), (350, 0.50), (450, 0.45), (530, 0.40), (565, 0.45)]
p7_lo = [(0, -0.48), (20, -0.37), (70, -0.20), (123, -0.16), (190, -0.14), (210, -0.12), (263, 0.0),
         (290, 0.03), (350, 0.05), (450, 0.0), (520, -0.15), (565, -0.35)]

# ---------------- panel 8 (row 4, right)
p8_pts = [
    (1, 2.06), (1, 1.66), (1, 1.31), (1, -3.25), (10, 2.01), (10, 1.35), (10, 1.28), (10, -1.08), (10, -1.89),
    (10, -2.27), (10, -3.14), (25, 2.27), (25, 1.90), (25, 1.28), (25, -2.17), (25, -3.17), (35, 2.43),
    (35, 2.09), (35, -3.20), (42, 2.27), (42, 1.96), (42, 1.35), (42, 1.24), (42, 1.16), (42, -1.67),
    (42, -2.83), (56, 2.32), (56, 2.21), (56, 2.09), (56, 2.01), (56, 1.35), (56, 1.28), (68, 2.91), (68, 2.78),
    (68, 2.68), (68, 2.52), (68, 1.21), (68, 0.70), (68, -1.47), (68, -2.55), (68, -3.06), (68, -3.14),
    (68, -3.22), (68, -3.29), (90, 3.45), (90, 2.94), (90, 2.66), (90, 2.01), (90, 1.35), (90, 1.24),
    (90, 1.16), (90, -1.66), (90, -1.75), (90, -1.86), (90, -2.27), (90, -2.63), (90, -3.12), (116, 1.59),
    (116, 1.21), (116, -2.47), (124, 1.66), (128, 1.28), (131, 1.58), (131, 1.21), (131, -1.44), (131, -2.17),
    (128, -2.52), (123, -1.83), (140, 2.40), (142, 1.28), (142, -0.62), (142, -2.06), (149, 2.51),
    (149, -1.83), (154, 1.35), (154, 2.09), (154, -2.24), (159, 2.24), (159, 1.81), (164, 1.44), (166, 2.66),
    (166, 1.35), (166, 1.28), (166, 0.46), (166, 0.39), (166, -2.17), (166, -2.24), (181, 2.17), (181, 1.28),
    (181, -1.21), (181, -1.93), (190, 2.24), (190, -0.90), (190, -1.93), (196, 2.04), (198, 2.01), (199, 1.78),
    (199, -2.52), (199, -2.66), (199, -2.74), (199, -3.25), (212, -2.58), (212, -3.25), (217, 2.27),
    (217, 1.24), (221, -1.93), (221, -2.83), (229, -1.93), (231, -1.05), (231, -1.42), (231, -1.93),
    (236, 3.14), (236, 2.78), (240, 2.60), (240, -2.74), (248, 1.58), (250, -1.93), (252, -2.83), (260, -2.55),
    (260, -2.74), (264, -1.90), (267, 2.66), (267, -1.05), (271, 1.44), (271, -3.25),
    (290, 2.09), (310, 2.55), (317, 1.86), (332, 3.02), (342, 2.32), (352, 1.62), (367, 2.55), (377, 2.09),
    (392, 1.16), (402, 1.86), (417, 2.55), (427, 1.62), (442, 2.09), (457, 2.78), (472, 1.39), (482, 2.32),
    (492, 2.55), (504, 2.09), (517, 1.62), (522, 3.25), (532, 2.09), (544, 1.86), (557, 2.32), (562, 2.09),
    (570, 2.00), (332, 0.56), (292, 0.23),
    (282, -2.09), (294, -1.39), (307, -2.65), (317, -1.86), (327, -3.02), (337, -2.09), (350, -1.62),
    (357, -3.25), (372, -2.32), (382, -1.16), (392, -2.65), (400, -2.09), (412, -3.25), (422, -1.72),
    (432, -2.32), (440, -4.18), (447, -3.02), (454, -2.09), (464, -3.71), (472, -2.65), (482, -3.02),
    (492, -1.53), (502, -2.32), (512, -3.25), (522, -2.09), (532, -1.86), (542, -2.78), (552, -2.00),
    (560, -3.25), (567, -1.39),
]
p8_fit = [(1, 0.11), (39, 0.19), (119, 0.19), (165, 0.08), (199, -0.05), (229, -0.15), (272, -0.36),
          (350, -0.50), (420, -0.60), (470, -0.55), (530, -0.25), (565, 0.07)]
p8_up = [(1, 0.97), (39, 0.73), (85, 0.62), (125, 0.57), (165, 0.51), (199, 0.46), (229, 0.26), (272, 0.0),
         (350, -0.15), (420, -0.25), (480, -0.10), (530, 0.40), (565, 0.95)]
p8_lo = [(1, -0.73), (39, -0.46), (85, -0.23), (125, -0.26), (165, -0.46), (199, -0.54), (229, -0.62),
         (272, -0.73), (350, -0.95), (420, -1.10), (480, -1.05), (530, -0.90), (565, -0.75)]

fig = plt.figure(figsize=(12.55, 7.96), dpi=100)
W, H = 1255.0, 796.0


def panel(box, xlim, pts, fit, up, lo, ylim, yticks, ylabels, xlabels=True):
    l, t, r, b = box
    ax = fig.add_axes([l / W, 1 - b / H, (r - l) / W, (b - t) / H])
    xs = [p[0] for p in pts]
    ys = [p[1] for p in pts]
    ax.plot(xs, ys, 'o', ms=4.3, mfc='none', mec='black', mew=0.8, zorder=3)
    for line, style in ((fit, '-'), (up, (0, (6, 3.5))), (lo, (0, (6, 3.5)))):
        ax.plot([p[0] for p in line], [p[1] for p in line], color='red', lw=1.1, ls=style, zorder=2)
    ax.set_xlim(xlim)
    ax.set_ylim(ylim)
    ax.set_xticks(xtick_pos)
    ax.set_xticklabels(xtick_lab if xlabels else [])
    ax.set_yticks(yticks)
    if ylabels:
        ax.set_yticklabels(ylabels, rotation=90, va='center')
    else:
        ax.set_yticklabels([])
    ax.tick_params(direction='out', length=5.5, width=0.8, pad=3, labelsize=9.5, colors='#111111')
    for s in ax.spines.values():
        s.set_linewidth(0.9)
        s.set_color('#222222')
    return ax


xl_left = (-22.7, 586.5)
xl_right = (-21.3, 586)

panel((7.3, 2, 616.5, 177), xl_left, p1_pts, p1_fit, p1_up, p1_lo, (-1.13, 2.82), [-1, 0, 1, 2], None)
panel((646.7, 2, 1254, 177), xl_right, p2_pts, p2_fit, p2_up, p2_lo, (-2.51, 2.42),
      [-2, -1, 0, 1, 2], ['-2', '-1', '0', '1', '2'])
panel((7.3, 206, 616.5, 381), xl_left, p3_pts, p3_fit, p3_up, p3_lo, (-2.90, 2.61), [-2, -1, 0, 1, 2], None)
panel((646.7, 206, 1254, 381), xl_right, p4_pts, p4_fit, p4_up, p4_lo, (-6.06, 3.0),
      [-6, -4, -2, 0, 2], ['-6', '-4', '-2', '0', '2'])
panel((7.3, 409, 616.5, 583), xl_left, p5_pts, p5_fit, p5_up, p5_lo, (-0.91, 5.36), [0, 2, 4], None)
panel((646.7, 409, 1254, 583), xl_right, p6_pts, p6_fit, p6_up, p6_lo, (-2.08, 5.11),
      [-2, -1, 0, 1, 2, 3, 4, 5], ['-2', '-1', '0', '1', '2', '3', '4', '5'])
panel((7.3, 614, 616.5, 789), xl_left, p7_pts, p7_fit, p7_up, p7_lo, (-2.01, 2.47), [-1, 0, 1, 2], None,
      xlabels=False)
panel((646.7, 614, 1254, 789), xl_right, p8_pts, p8_fit, p8_up, p8_lo, (-4.36, 3.76),
      [-4, -2, 0, 2], ['-4', '-2', '0', '2'], xlabels=False)

fig.savefig('out.png', dpi=100)
